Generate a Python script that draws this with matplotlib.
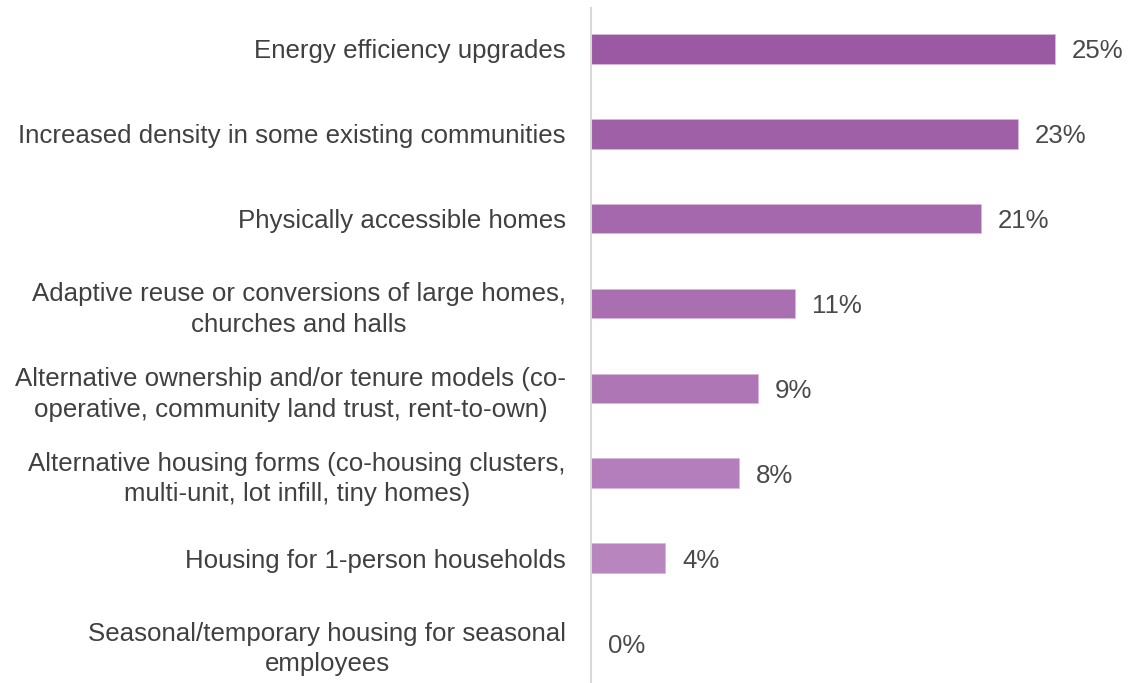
import matplotlib.pyplot as plt
import numpy as np

categories = [
    "Energy efficiency upgrades",
    "Increased density in some existing communities",
    "Physically accessible homes",
    "Adaptive reuse or conversions of large homes,\nchurches and halls",
    "Alternative ownership and/or tenure models (co-\noperative, community land trust, rent-to-own)",
    "Alternative housing forms (co-housing clusters,\nmulti-unit, lot infill, tiny homes)",
    "Housing for 1-person households",
    "Seasonal/temporary housing for seasonal\nemployees",
]
values = [25, 23, 21, 11, 9, 8, 4, 0]

# couleurs : du violet foncé au plus clair
c_dark = np.array([155, 89, 163]) / 255
c_light = np.array([190, 140, 196]) / 255
n = len(values)
colors = [tuple(c_dark + (c_light - c_dark) * i / (n - 1)) for i in range(n)]

W, H = 1134, 683
fig = plt.figure(figsize=(W / 100, H / 100), dpi=100)
ax = fig.add_axes([591 / W, 0, 538 / W, 675 / H])

y = np.arange(n)
ax.barh(y, values, height=0.35, color=colors, edgecolor='#d8b8dc', linewidth=0.6)
ax.set_xlim(0, 29)
ax.set_ylim(7.47, -0.48)

font = 'Liberation Sans'
txt_col = '#404040'
fs = 18.6

for i, v in enumerate(values):
    ax.text(v + 0.9, i, f"{v}%", va='center_baseline', ha='left', fontsize=fs,
            color='#4a4a4a', family=font)

ax.set_yticks(y)
ax.set_yticklabels(categories, fontsize=fs, color=txt_col, family=font,
                   multialignment='center', linespacing=1.35)
ax.tick_params(axis='y', length=0, pad=18)
ax.set_xticks([])

for s in ['top', 'right', 'bottom']:
    ax.spines[s].set_visible(False)
ax.spines['left'].set_color('#d9d9d9')
ax.spines['left'].set_linewidth(1.5)

fig.savefig('out.png', dpi=100)
